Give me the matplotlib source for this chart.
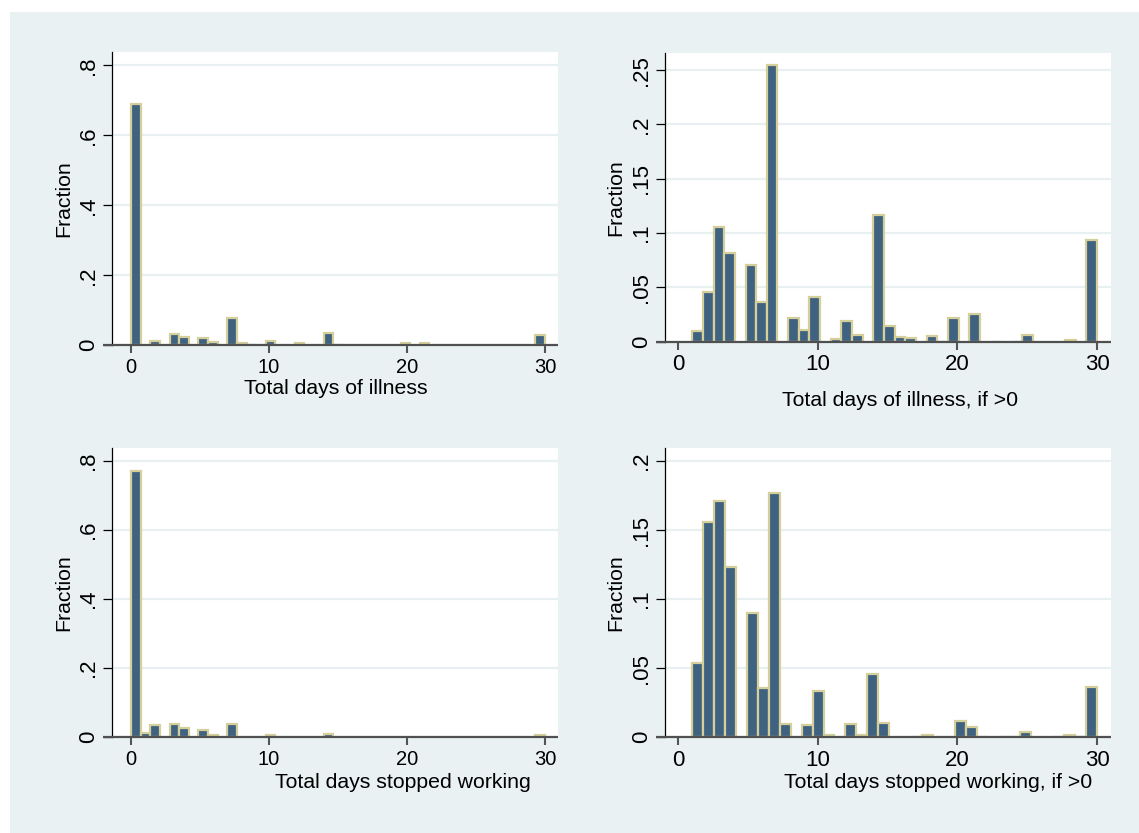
import numpy as np
import matplotlib
matplotlib.use("Agg")
import matplotlib.pyplot as plt
from matplotlib.patches import Rectangle

plt.rcParams['font.family'] = ['Liberation Sans', 'DejaVu Sans']

# ---------------- data ----------------
days_all = list(range(0, 31))
days_pos = list(range(1, 31))

illness_all = [0.689, 0.0, 0.012, 0.032, 0.024, 0.021, 0.009, 0.077, 0.0066, 0.004,
               0.012, 0.002, 0.006, 0.002, 0.034, 0.004, 0.002, 0.002, 0.002, 0.002,
               0.006, 0.006, 0.002, 0.002, 0.002, 0.002, 0.002, 0.002, 0.002, 0.002,
               0.029]
illness_pos = [0.0096, 0.0455, 0.106, 0.0816, 0.0703, 0.0362, 0.2543, 0.0218, 0.0105, 0.0408,
               0.0025, 0.019, 0.0062, 0.1166, 0.0147, 0.0043, 0.003, 0.0055, 0.001, 0.0218,
               0.0255, 0.0, 0.001, 0.001, 0.0062, 0.0, 0.0, 0.002, 0.0, 0.0933]
stopped_all = [0.772, 0.0135, 0.0366, 0.0386, 0.027, 0.021, 0.0077, 0.0386, 0.0, 0.0,
               0.0077, 0.0, 0.0, 0.0, 0.0105, 0.0, 0.0, 0.0, 0.0, 0.0,
               0.0, 0.0, 0.0, 0.0, 0.0, 0.0, 0.0, 0.0, 0.0, 0.0,
               0.0077]
stopped_pos = [0.0536, 0.1556, 0.1708, 0.123, 0.0898, 0.0355, 0.1768, 0.0094, 0.0087, 0.0335,
               0.0015, 0.0094, 0.0015, 0.0456, 0.0101, 0.0, 0.0006, 0.0017, 0.0, 0.0116,
               0.0074, 0.0006, 0.0006, 0.0006, 0.0036, 0.0, 0.0006, 0.0015, 0.0006, 0.0364]

titles = ["Total days of illness", "Total days of illness, if >0",
          "Total days stopped working", "Total days stopped working, if >0"]
yticks_big = [0, 0.2, 0.4, 0.6, 0.8]
yticklabels_big = ["0", ".2", ".4", ".6", ".8"]
yticks_tr = [0, 0.05, 0.1, 0.15, 0.2, 0.25]
yticklabels_tr = ["0", ".05", ".1", ".15", ".2", ".25"]
yticks_br = [0, 0.05, 0.1, 0.15, 0.2]
yticklabels_br = ["0", ".05", ".1", ".15", ".2"]
xticks = [0, 10, 20, 30]

# ---------------- figure ----------------
W, H = 1139, 833
fig = plt.figure(figsize=(W / 100, H / 100), dpi=100)
fig.patch.set_facecolor('white')
BG = '#e9f1f3'
fig.patches.append(Rectangle((10 / W, 0), 1 - 10 / W, 1 - 12 / H,
                             transform=fig.transFigure, facecolor=BG,
                             edgecolor='none', zorder=-10))

FILL = '#3f6280'
EDGE = '#d5cf9c'
GRID = '#e8f0f2'


def make_ax(left, right, top, bottom):
    return fig.add_axes([left / W, 1 - bottom / H, (right - left) / W, (bottom - top) / H])


panels = [
    dict(box=(112, 558, 52, 345.3), days=days_all, vals=illness_all,
         bins=np.linspace(0, 30, 44), xlim=(-1.377, 30.94), ylim=(0, 0.838),
         yt=yticks_big, ytl=yticklabels_big, xfs=14.5, title=titles[0],
         tpos=(335.5, 388), ylab_x=-0.087),
    dict(box=(665, 1111, 52.7, 341.7), days=days_pos, vals=illness_pos,
         bins=np.linspace(1, 30, 39), xlim=(-0.953, 31.0), ylim=(0, 0.266),
         yt=yticks_tr, ytl=yticklabels_tr, xfs=16, title=titles[1],
         tpos=(900, 400), ylab_x=-0.09),
    dict(box=(112, 558, 447.7, 737.3), days=days_all, vals=stopped_all,
         bins=np.linspace(0, 30, 44), xlim=(-1.377, 30.94), ylim=(0, 0.838),
         yt=yticks_big, ytl=yticklabels_big, xfs=14.5, title=titles[2],
         tpos=(402.5, 783), ylab_x=-0.087),
    dict(box=(665, 1111, 447.7, 737.3), days=days_pos, vals=stopped_pos,
         bins=np.linspace(1, 30, 38), xlim=(-0.953, 31.0), ylim=(0, 0.2096),
         yt=yticks_br, ytl=yticklabels_br, xfs=16, title=titles[3],
         tpos=(938.5, 783), ylab_x=-0.09),
]

for p in panels:
    ax = make_ax(*p['box'])
    ax.set_facecolor('white')
    counts, edges, patches = ax.hist(p['days'], bins=p['bins'], weights=p['vals'],
                                     color=FILL, edgecolor=EDGE, linewidth=1.6,
                                     zorder=3)
    ax.set_xlim(*p['xlim'])
    ax.set_ylim(*p['ylim'])
    hpx = p['box'][3] - p['box'][2]
    pxper = hpx / (p['ylim'][1] - p['ylim'][0])
    for c, patch in zip(counts, patches):
        if c <= 0:
            patch.set_visible(False)
        elif c * pxper < 1.5:
            patch.set_edgecolor(FILL)
            patch.set_linewidth(0.8)

    # grid
    ax.set_yticks(p['yt'])
    ax.set_yticklabels(p['ytl'], rotation=90, va='center', fontsize=16)
    ax.yaxis.grid(True, color=GRID, linewidth=1.6, zorder=1)
    ax.set_axisbelow(True)

    ax.set_xticks(xticks)
    ax.set_xticklabels([str(t) for t in xticks], fontsize=p['xfs'])

    for s in ['top', 'right', 'bottom']:
        ax.spines[s].set_visible(False)
    ax.spines['left'].set_color('black')
    ax.spines['left'].set_linewidth(0.9)
    ax.spines['left'].set_zorder(5)

    # x-axis line that extends a bit left of the y axis
    ax.plot([-0.02, 1.0], [0, 0], transform=ax.get_yaxis_transform(),
            color='#505050', linewidth=1.6, clip_on=False, zorder=6,
            solid_capstyle='butt')

    ax.tick_params(axis='x', length=6, width=1.5, color='#555555', pad=3)
    ax.tick_params(axis='y', length=6.5, width=0.9, color='black', pad=3)

    ax.set_ylabel("Fraction", fontsize=15.3)
    ax.yaxis.set_label_coords(p['ylab_x'], 0.5)

    fig.text(p['tpos'][0] / W, 1 - p['tpos'][1] / H, p['title'],
             ha='center', va='center', fontsize=15.3)

fig.savefig("out.png", dpi=100, facecolor=fig.get_facecolor())
